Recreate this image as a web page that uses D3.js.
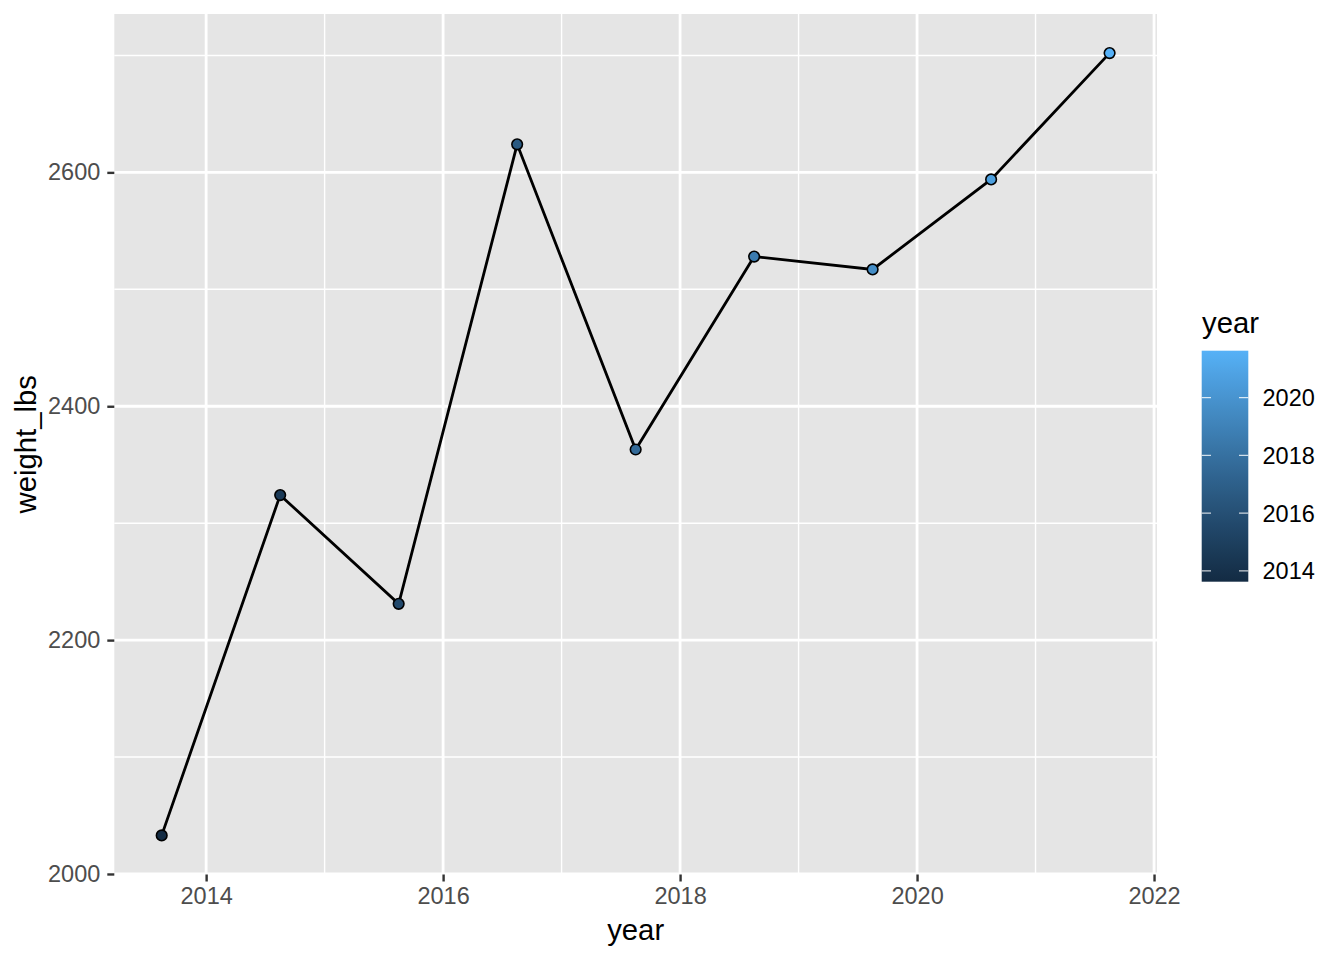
<!DOCTYPE html>
<html>
<head>
<meta charset="utf-8">
<script src="https://d3js.org/d3.v7.min.js"></script>
<style>
  body { margin: 0; background: #fff; }
  text { font-family: "Liberation Sans", Arial, Helvetica, sans-serif; }
</style>
</head>
<body>
<script>
// data
let years = [2013.625, 2014.625, 2015.625, 2016.625, 2017.625, 2018.625, 2019.625, 2020.625, 2021.625];
let weights = [2033, 2324, 2231, 2624, 2363, 2528, 2517, 2594, 2702];

let xTicks = [2014, 2016, 2018, 2020, 2022];
let xMinor = [2015, 2017, 2019, 2021];
let yTicks = [2000, 2200, 2400, 2600];
let yMinor = [2100, 2300, 2500, 2700];
let legendTicks = [2014, 2016, 2018, 2020];

function main() {

    let svg = d3.select("body").append("svg")
        .attr("width", 1344)
        .attr("height", 960);

    let panel = { left: 114.3, right: 1157, top: 14, bottom: 874.5 };

    // ggplot style 5% expansion
    let xExt = d3.extent(years);
    let xPad = (xExt[1] - xExt[0]) * 0.05;
    let yExt = d3.extent(weights);
    let yPad = (yExt[1] - yExt[0]) * 0.05;

    let xScale = d3.scaleLinear().domain([xExt[0] - xPad, xExt[1] + xPad]).range([panel.left, panel.right]);
    let yScale = d3.scaleLinear().domain([yExt[0] - yPad, yExt[1] + yPad]).range([panel.bottom, panel.top]);

    let colorScale = d3.scaleLinear().domain(xExt)
        .range(["#132B43", "#56B1F7"])
        .interpolate(d3.interpolateLab);

    // panel background
    svg.append("rect")
        .attr("x", panel.left)
        .attr("y", panel.top)
        .attr("width", panel.right - panel.left)
        .attr("height", panel.bottom - panel.top)
        .attr("fill", "#E5E5E5");

    // minor grid
    svg.selectAll(".xminor").data(xMinor).enter().append("line")
        .attr("x1", d => xScale(d)).attr("x2", d => xScale(d))
        .attr("y1", panel.top).attr("y2", panel.bottom)
        .attr("stroke", "white").attr("stroke-width", 1.4);
    svg.selectAll(".yminor").data(yMinor).enter().append("line")
        .attr("y1", d => yScale(d)).attr("y2", d => yScale(d))
        .attr("x1", panel.left).attr("x2", panel.right)
        .attr("stroke", "white").attr("stroke-width", 1.4);

    // major grid
    svg.selectAll(".xmajor").data(xTicks).enter().append("line")
        .attr("x1", d => xScale(d)).attr("x2", d => xScale(d))
        .attr("y1", panel.top).attr("y2", panel.bottom)
        .attr("stroke", "white").attr("stroke-width", 2.8);
    svg.selectAll(".ymajor").data(yTicks).enter().append("line")
        .attr("y1", d => yScale(d)).attr("y2", d => yScale(d))
        .attr("x1", panel.left).attr("x2", panel.right)
        .attr("stroke", "white").attr("stroke-width", 2.8);

    // axes
    let xAxis = d3.axisBottom(xScale).tickValues(xTicks).tickFormat(d => d).tickSize(7).tickPadding(6);
    let yAxis = d3.axisLeft(yScale).tickValues(yTicks).tickFormat(d => d).tickSize(7).tickPadding(7);

    let gx = svg.append("g")
        .attr("transform", `translate(0,${panel.bottom})`)
        .call(xAxis);
    let gy = svg.append("g")
        .attr("transform", `translate(${panel.left},0)`)
        .call(yAxis);

    [gx, gy].forEach(g => {
        g.select(".domain").remove();
        g.selectAll(".tick line").attr("stroke", "#333333").attr("stroke-width", 2.4);
        g.selectAll(".tick text")
            .attr("fill", "#4D4D4D")
            .style("font-size", "23.5px")
            .style("font-family", "'Liberation Sans', Arial, sans-serif");
    });

    // line and points
    let pts = years.map((y, i) => ({ year: y, w: weights[i] }));

    svg.append("path")
        .datum(pts)
        .attr("fill", "none")
        .attr("stroke", "black")
        .attr("stroke-width", 2.8)
        .attr("d", d3.line().x(d => xScale(d.year)).y(d => yScale(d.w)));

    svg.selectAll(".pt").data(pts).enter().append("circle")
        .attr("cx", d => xScale(d.year))
        .attr("cy", d => yScale(d.w))
        .attr("r", 5.3)
        .attr("fill", d => colorScale(d.year))
        .attr("stroke", "black")
        .attr("stroke-width", 1.6);

    // axis titles
    svg.append("text")
        .attr("x", (panel.left + panel.right) / 2)
        .attr("y", 940)
        .attr("text-anchor", "middle")
        .style("font-size", "29.3px")
        .text("year");

    svg.append("text")
        .attr("transform", `translate(36, ${(panel.top + panel.bottom) / 2}) rotate(-90)`)
        .attr("text-anchor", "middle")
        .style("font-size", "29.3px")
        .text("weight_lbs");

    // colour bar legend
    let bar = { x: 1201.7, w: 46.6, top: 350.7, bottom: 581.7 };
    let legScale = d3.scaleLinear().domain(xExt).range([bar.bottom, bar.top]);

    let defs = svg.append("defs");
    let grad = defs.append("linearGradient")
        .attr("id", "yeargrad")
        .attr("x1", 0).attr("y1", 1).attr("x2", 0).attr("y2", 0);
    d3.range(0, 1.0001, 0.05).forEach(t => {
        grad.append("stop")
            .attr("offset", t)
            .attr("stop-color", colorScale(xExt[0] + t * (xExt[1] - xExt[0])));
    });

    svg.append("rect")
        .attr("x", bar.x)
        .attr("y", bar.top)
        .attr("width", bar.w)
        .attr("height", bar.bottom - bar.top)
        .attr("fill", "url(#yeargrad)");

    let legTicks = svg.append("g");
    legendTicks.forEach(t => {
        legTicks.append("line")
            .attr("x1", bar.x).attr("x2", bar.x + 9.3)
            .attr("y1", legScale(t)).attr("y2", legScale(t))
            .attr("stroke", "white").attr("stroke-opacity", 0.8).attr("stroke-width", 1.2);
        legTicks.append("line")
            .attr("x1", bar.x + bar.w - 9.3).attr("x2", bar.x + bar.w)
            .attr("y1", legScale(t)).attr("y2", legScale(t))
            .attr("stroke", "white").attr("stroke-opacity", 0.8).attr("stroke-width", 1.2);
        legTicks.append("text")
            .attr("x", 1262.5)
            .attr("y", legScale(t))
            .attr("dy", "0.36em")
            .style("font-size", "23.5px")
            .attr("fill", "black")
            .text(t);
    });

    svg.append("text")
        .attr("x", 1202)
        .attr("y", 333)
        .style("font-size", "29.3px")
        .text("year");
}

main()
</script>
</body>
</html>
